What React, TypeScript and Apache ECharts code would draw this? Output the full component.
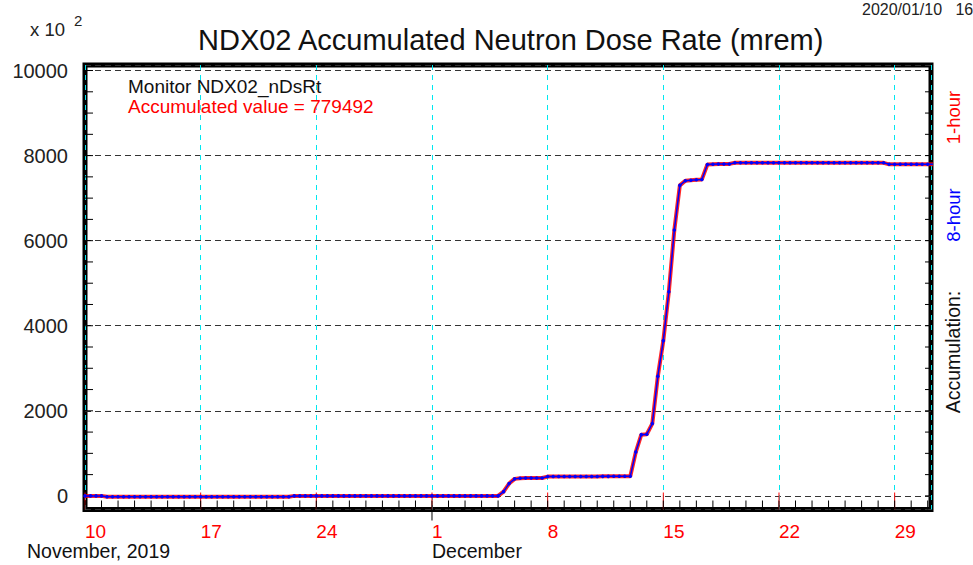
import React, { useEffect, useRef } from 'react';
import * as echarts from 'echarts';

// ---------- data ----------
const titleText = 'NDX02 Accumulated Neutron Dose Rate (mrem)';
const monitorName = 'NDX02_nDsRt';
const accumulatedValue = 779492;
const weekTickLabels = ['10', '17', '24', '1', '8', '15', '22', '29'];
const monthLabels = ['November, 2019', 'December'];
const stampText = '2020/01/10   16';
const sampleStepDays = 1 / 3; // 8-hour samples, starting Nov 10 00:00
const monthStartDay = 21; // Dec 1 = 21 days after Nov 10
const dayTickStep = 1;
const weekTickStep = 7;
const minorYStep = 500;

// accumulated dose (x 10^2 mrem), one value per 8-hour sample
const accumulated8h = [
  0, 0, 0, 0,
  -20, -20, -20, -20, -20, -20, -20, -20, -20, -20, -20, -20, -20, -20, -20, -20, -20,
  -20, -20, -20, -20, -20, -20, -20, -20, -20, -20, -20, -20, -20, -20, -20, -20, -20,
  0, 0, 0, 0, 0, 0, 0, 0, 0, 0, 0, 0, 0, 0, 0, 0, 0, 0, 0,
  0, 0, 0, 0, 0, 0, 0, 0, 0, 0, 0, 0, 0, 0, 0, 0, 0, 0, 0,
  100, 290, 400, 416, 418, 418, 420, 420, 454,
  455, 455, 456, 456, 457, 457, 458, 458, 458, 459, 459, 460, 460, 460, 460,
  1030, 1440, 1450, 1700, 2810, 3650, 4800, 6250, 7300,
  7410, 7420, 7430, 7440, 7790, 7795, 7800, 7800, 7805, 7830,
  7830, 7830, 7830, 7830, 7830, 7830, 7830, 7830, 7830, 7830, 7830, 7830, 7830, 7830,
  7830, 7830, 7830, 7830, 7830, 7830, 7830, 7830, 7830, 7830, 7830, 7830, 7830,
  7795, 7795, 7795, 7795, 7795, 7795, 7795, 7795, 7795,
];
const accumulated1h = accumulated8h;

const X_MAX = 51.2;
const Y_MIN = -320;
const Y_MAX = 10130;
const Y_TOP_TICK = 10000;

export default function App() {
  const ref = useRef<HTMLDivElement>(null);

  useEffect(() => {
    if (!ref.current) return;
    const chart = echarts.init(ref.current, null, { renderer: 'svg' });
    const font = '"Liberation Sans", Arial, sans-serif';
    const pts8 = accumulated8h.map((v, i) => [i * sampleStepDays, v]);
    const pts1 = accumulated1h.map((v, i) => [i * sampleStepDays, v]);

    // tick marks drawn through the axes' own scales
    const renderTicks = (_params: any, api: any) => {
      const children: any[] = [];
      const line = (x1: number, y1: number, x2: number, y2: number, color: string) =>
        children.push({ type: 'line', shape: { x1, y1, x2, y2 }, style: { stroke: color, lineWidth: 1 } });
      // red weekly ticks
      for (let d = 0; d <= X_MAX; d += weekTickStep) {
        const p = api.coord([d, Y_MIN]);
        line(p[0], p[1], p[0], p[1] - 17, '#ff0000');
      }
      // black daily ticks
      for (let d = 0; d <= X_MAX; d += dayTickStep) {
        const p = api.coord([d, Y_MIN]);
        line(p[0], p[1], p[0], p[1] - 9, '#000');
      }
      // month boundary tick (outside)
      const m = api.coord([monthStartDay, Y_MIN]);
      line(m[0], m[1], m[0], m[1] + 11, '#000');
      // minor y ticks, left and right
      for (let v = 0; v <= Y_TOP_TICK; v += minorYStep) {
        const l = api.coord([0, v]);
        const r = api.coord([X_MAX, v]);
        line(l[0], l[1], l[0] + 8, l[1], '#000');
        line(r[0], r[1], r[0] - 6, r[1], '#000');
      }
      return { type: 'group', children };
    };

    const option: any = {
      animation: false,
      textStyle: { fontFamily: font },
      title: {
        text: titleText,
        left: 193,
        top: 20,
        textStyle: { fontSize: 29, fontWeight: 'normal', color: '#111', fontFamily: font },
      },
      grid: {
        left: 85,
        top: 65,
        width: 846,
        height: 444.5,
        show: true,
        borderColor: '#000',
        borderWidth: 5,
        outerBoundsMode: 'none',
      },
      xAxis: {
        type: 'value',
        min: 0,
        max: X_MAX,
        interval: weekTickStep,
        position: 'bottom',
        axisLine: { show: false, onZero: false },
        axisTick: { show: false },
        axisLabel: {
          color: '#ff0000',
          fontSize: 19,
          fontFamily: font,
          align: 'left',
          margin: 12,
          showMaxLabel: false,
          formatter: (v: number) => {
            const k = Math.round(v / weekTickStep);
            return Math.abs(v - k * weekTickStep) < 1e-6 && weekTickLabels[k] ? weekTickLabels[k] : '';
          },
        },
        splitLine: { show: true, lineStyle: { color: '#00e8f0', type: [5, 5], width: 1 } },
      },
      yAxis: {
        type: 'value',
        min: Y_MIN,
        max: Y_MAX,
        splitNumber: 5,
        minInterval: 2000,
        maxInterval: 2000,
        position: 'left',
        axisLine: { show: false, onZero: false },
        axisTick: { show: false },
        axisLabel: {
          fontSize: 20,
          color: '#222',
          margin: 17,
          fontFamily: font,
          showMinLabel: false,
          showMaxLabel: false,
          formatter: (v: number) => String(v),
        },
        splitLine: { show: true, lineStyle: { color: '#333', type: [6, 4], width: 1 } },
      },
      series: [
        {
          type: 'custom',
          name: 'ticks',
          renderItem: renderTicks,
          data: [[0, 0]],
          clip: false,
          silent: true,
          z: 2,
        },
        {
          type: 'line',
          name: '1-hour',
          data: pts1,
          symbol: 'none',
          lineStyle: { color: 'rgba(255,0,0,0.85)', width: 4 },
          z: 3,
        },
        {
          type: 'line',
          name: '8-hour',
          data: pts8,
          symbol: 'circle',
          symbolSize: 3.5,
          itemStyle: { color: '#0000ff' },
          lineStyle: { color: '#0000ff', width: 1.5 },
          z: 4,
        },
      ],
      graphic: [
        { type: 'text', x: 30, y: 29, style: { text: 'x 10', fontSize: 18.5, fill: '#222', fontFamily: font, verticalAlign: 'middle' } },
        { type: 'text', x: 74, y: 20, style: { text: '2', fontSize: 15, fill: '#222', fontFamily: font, verticalAlign: 'middle' } },
        { type: 'text', x: 862, y: 9.5, style: { text: stampText, fontSize: 16, fill: '#222', fontFamily: font, verticalAlign: 'middle' } },
        { type: 'text', x: 128, y: 86, z: 10, style: { text: 'Monitor ' + monitorName, fontSize: 19, fill: '#111', fontFamily: font, verticalAlign: 'middle' } },
        { type: 'text', x: 128, y: 106, z: 10, style: { text: 'Accumulated value = ' + accumulatedValue, fontSize: 19, fill: '#ff0000', fontFamily: font, verticalAlign: 'middle' } },
        { type: 'text', x: 953, y: 117.5, rotation: Math.PI / 2, style: { text: '1-hour', fontSize: 18.5, fill: '#ff0000', fontFamily: font, align: 'center', verticalAlign: 'middle' } },
        { type: 'text', x: 953, y: 215, rotation: Math.PI / 2, style: { text: '8-hour', fontSize: 18.5, fill: '#0000ff', fontFamily: font, align: 'center', verticalAlign: 'middle' } },
        { type: 'text', x: 953, y: 352, rotation: Math.PI / 2, style: { text: 'Accumulation:', fontSize: 19.5, fill: '#111', fontFamily: font, align: 'center', verticalAlign: 'middle' } },
        { type: 'text', x: 27, y: 551, style: { text: monthLabels[0], fontSize: 19.5, fill: '#111', fontFamily: font, verticalAlign: 'middle' } },
        { type: 'text', x: 432, y: 551, style: { text: monthLabels[1], fontSize: 19.5, fill: '#111', fontFamily: font, verticalAlign: 'middle' } },
      ],
    };
    chart.setOption(option);
    return () => chart.dispose();
  }, []);

  return (
    <div
      ref={ref}
      style={{ position: 'fixed', left: 0, top: 0, width: 973, height: 565, background: '#fff' }}
    />
  );
}
